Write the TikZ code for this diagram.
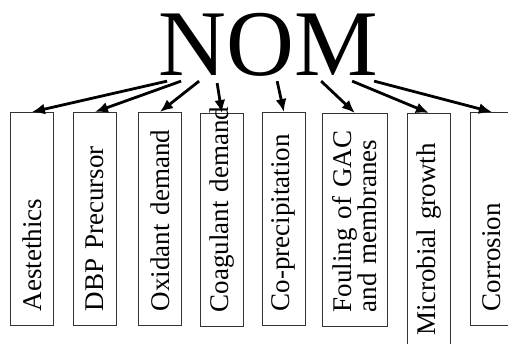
\documentclass[tikz,border=0pt]{standalone}
\usepackage{fontspec}
\setmainfont{Liberation Serif}
\usetikzlibrary{arrows.meta}
\colorlet{boxcol}{black!80}
\colorlet{arrcol}{black}

\begin{document}
\begin{tikzpicture}[x=1pt, y=-1pt,
	    effect/.style={draw=boxcol, line width=0.8pt, rotate=90, anchor=north east,
	      minimum width=213pt, minimum height=43pt, inner xsep=14pt, inner ysep=0pt,
	      text width=185pt, align=left, font=\fontsize{27pt}{25pt}\selectfont},
	    link/.style={draw=arrcol, line width=2.8pt, -{Latex[length=13pt,width=11pt]}}]
	
		\useasboundingbox (0,0) rectangle (508,343);
		\clip (0,0) rectangle (508,343);
	
		\node[inner sep=0pt, anchor=base, font=\fontsize{94pt}{94pt}\selectfont] (nom) at (268,75) {NOM}; % root node
	
		\node[effect] (aes) at (10,112) {Aestethics};
		\node[effect] (dbp) at (73,112) {DBP Precursor};
		\node[effect] (oxi) at (138,112) {Oxidant demand};
		\node[effect] (coa) at (200,113) {\mbox{Coagulant demand}};
		\node[effect] (cop) at (262,112) {Co-precipitation};
		\node[effect, minimum height=65pt] (fou) at (322,113) {Fouling of GAC\\and membranes};
		\node[effect, minimum width=236pt, text width=208pt] (mic) at (407,113) {Microbial growth};
		\node[effect] (cor) at (470,112) {Corrosion};
	
		\draw[link] ([xshift=9pt,yshift=-5pt]nom.south west) -- (aes.east);
		\draw[link] ([xshift=23pt,yshift=-5pt]nom.south west) -- (dbp.east);
		\draw[link] ([xshift=41pt,yshift=-5pt]nom.south west) -- (oxi.east);
		\draw[link] ([xshift=59pt,yshift=-7pt]nom.south west) -- (coa.east);
		\draw[link] ([xshift=119pt,yshift=-5pt]nom.south west) -- (cop.east);
		\draw[link] ([xshift=163pt,yshift=-5pt]nom.south west) -- (fou.east);
		\draw[link] ([xshift=194pt,yshift=-5pt]nom.south west) -- (mic.east);
		\draw[link] ([xshift=216pt,yshift=-5pt]nom.south west) -- (cor.east); % end of effects
	
	  \end{tikzpicture}
\end{document}
